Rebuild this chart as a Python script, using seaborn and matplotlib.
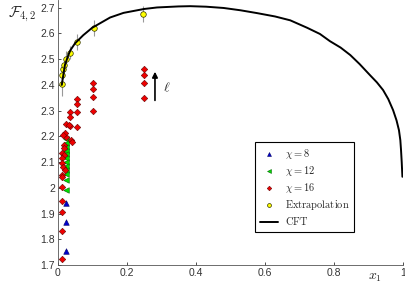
import matplotlib
matplotlib.use("Agg")
import matplotlib.pyplot as plt
import matplotlib.ticker as mticker
import seaborn as sns
import pandas as pd
import numpy as np

# chi = 8 (blue triangles)
x_chi8 = [0.025, 0.025, 0.025]
y_chi8 = [1.940, 1.867, 1.753]

# chi = 12 (green left triangles)
x_chi12 = [0.024, 0.025, 0.024, 0.025, 0.024, 0.025, 0.024, 0.025, 0.024, 0.025, 0.024, 0.025]
y_chi12 = [2.190, 2.175, 2.160, 2.145, 2.130, 2.115, 2.100, 2.085, 2.070, 2.055, 2.030, 1.992]

# chi = 16 (red diamonds)
x_chi16 = [0.25, 0.25, 0.25, 0.25,
           0.103, 0.103, 0.103, 0.103,
           0.055, 0.055, 0.055, 0.055,
           0.036, 0.036, 0.036, 0.038,
           0.025, 0.033, 0.024, 0.041,
           0.021, 0.016, 0.019, 0.018, 0.014, 0.018, 0.014, 0.012,
           0.016, 0.021, 0.013, 0.014, 0.013, 0.012, 0.013, 0.013, 0.012]
y_chi16 = [2.460, 2.439, 2.408, 2.349,
           2.406, 2.384, 2.354, 2.298,
           2.345, 2.327, 2.295, 2.237,
           2.295, 2.276, 2.240, 2.186,
           2.250, 2.244, 2.198, 2.179,
           2.212, 2.205, 2.166, 2.153, 2.134, 2.127, 2.114, 2.095,
           2.082, 2.069, 2.050, 2.043, 2.004, 1.950, 1.905, 1.833, 1.723]

# extrapolation (yellow circles with error bars)
x_extrap = [0.012, 0.013, 0.016, 0.019, 0.025, 0.036, 0.056, 0.104, 0.246]
y_extrap = [2.403, 2.440, 2.463, 2.478, 2.500, 2.525, 2.567, 2.621, 2.676]
err_extrap = [0.045, 0.020, 0.020, 0.020, 0.030, 0.025, 0.030, 0.031, 0.032]

# CFT curve
x_cft = [0.012, 0.014, 0.021, 0.031, 0.037, 0.050, 0.074, 0.100, 0.152, 0.191,
         0.250, 0.288, 0.350, 0.384, 0.430, 0.481, 0.530, 0.578, 0.630, 0.674,
         0.723, 0.760, 0.789, 0.820, 0.848, 0.875, 0.905, 0.925, 0.943, 0.958,
         0.972, 0.982, 0.989, 0.993, 0.995, 0.997, 0.999]
y_cft = [2.400, 2.418, 2.477, 2.516, 2.535, 2.561, 2.593, 2.622, 2.662, 2.680,
         2.695, 2.701, 2.705, 2.706, 2.704, 2.699, 2.690, 2.679, 2.666, 2.651,
         2.622, 2.598, 2.570, 2.545, 2.516, 2.481, 2.438, 2.410, 2.380, 2.345,
         2.302, 2.262, 2.224, 2.185, 2.147, 2.100, 2.043]

x_ticks = [0, 0.2, 0.4, 0.6, 0.8, 1]
y_ticks = [1.7, 1.8, 1.9, 2.0, 2.1, 2.2, 2.3, 2.4, 2.5, 2.6, 2.7]

sns.set_style("ticks")
plt.rcParams['font.family'] = ['Liberation Sans', 'DejaVu Sans']
plt.rcParams['mathtext.fontset'] = 'cm'

fig = plt.figure(figsize=(4.06, 2.89), dpi=100)
ax = fig.add_axes([0.142, 0.083, 0.850, 0.917])

ax.errorbar(x_extrap, y_extrap, yerr=err_extrap, fmt='none', ecolor='#999999',
            elinewidth=0.8, capsize=0, zorder=2)

sns.scatterplot(x=x_chi8, y=y_chi8, marker='^', color='#0000cc', edgecolor='#000066',
                linewidth=0.4, s=16, ax=ax, label=r'$\chi = 8$', zorder=3)
sns.scatterplot(x=x_chi12, y=y_chi12, marker='<', color='#00dd00', edgecolor='#006600',
                linewidth=0.4, s=16, ax=ax, label=r'$\chi = 12$', zorder=3)
sns.scatterplot(x=x_chi16, y=y_chi16, marker='D', color='#ee0000', edgecolor='#660000',
                linewidth=0.4, s=11, ax=ax, label=r'$\chi = 16$', zorder=4)
sns.scatterplot(x=x_extrap, y=y_extrap, marker='o', color='#ffff00', edgecolor='#333300',
                linewidth=0.5, s=16, ax=ax, label=r'$\mathrm{Extrapolation}$', zorder=5)
cft = pd.DataFrame({'x': x_cft, 'y': y_cft})
sns.lineplot(data=cft, x='x', y='y', color='black', linewidth=1.4, sort=False,
             ax=ax, label=r'$\mathrm{CFT}$', zorder=6)

ax.set_xlim(0, 1)
ax.set_ylim(1.7, 2.73)
ax.set_xticks(x_ticks)
ax.set_yticks(y_ticks)
ax.xaxis.set_major_formatter(mticker.FormatStrFormatter('%g'))
ax.yaxis.set_major_formatter(mticker.FormatStrFormatter('%g'))
ax.tick_params(direction='in', length=2.5, width=0.6, labelsize=7.5, pad=2, colors='#333333')
for side in ['top', 'right']:
    ax.spines[side].set_visible(False)
for side in ['left', 'bottom']:
    ax.spines[side].set_linewidth(0.6)
    ax.spines[side].set_color('#555555')
ax.set_xlabel('')
ax.set_ylabel('')

fig.text(0.055, 0.95, r'$\mathcal{F}_{4,2}$', fontsize=11, ha='center', va='center')
fig.text(0.923, 0.04, r'$x_1$', fontsize=10, ha='center', va='center')

# arrow for increasing ell
ax.annotate('', xy=(0.282, 2.462), xytext=(0.282, 2.329),
            arrowprops=dict(arrowstyle='-|>', color='black', lw=1.2, mutation_scale=8))
ax.text(0.316, 2.39, r'$\ell$', fontsize=10, ha='center', va='center')

leg = ax.legend(loc='upper left', bbox_to_anchor=(0.572, 0.464), borderaxespad=0,
                fontsize=7.5, frameon=True, fancybox=False, edgecolor='black',
                framealpha=1, handlelength=1.8, labelspacing=0.3, borderpad=0.45,
                handletextpad=0.6, markerscale=0.7)
leg.get_frame().set_linewidth(0.8)

fig.savefig("out.png", dpi=100)
